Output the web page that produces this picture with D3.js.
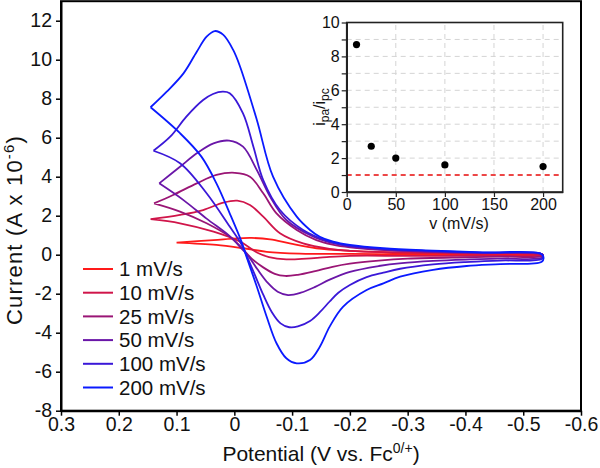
<!DOCTYPE html>
<html>
<head>
<meta charset="utf-8">
<script src="https://cdn.jsdelivr.net/npm/d3@7"></script>
<style>
  html, body { margin: 0; padding: 0; background: #fff; }
  svg { display: block; font-family: "Liberation Sans", Arial, sans-serif; }
</style>
</head>
<body>
<svg id="chart" width="600" height="468"></svg>
<script>
// ---------- data ----------
const scanRates = [1, 10, 25, 50, 100, 200];
const legendLabels = ["1 mV/s", "10 mV/s", "25 mV/s", "50 mV/s", "100 mV/s", "200 mV/s"];
const seriesColors = ["#ff1a1a", "#d0154a", "#9a1575", "#6a16a8", "#3a18d8", "#0a1aff"];

// cyclic voltammograms: [potential (V vs Fc), current (A x 1e-6)] around the closed loop
const cv1 = [[0.100,0.62],[0.036,0.75],[-0.004,0.84],[-0.030,0.86],[-0.062,0.79],[-0.096,0.58],[-0.142,0.33],[-0.2,0.2],[-0.3,0.1],[-0.43,0.05],[-0.53,0.03],
  [-0.532,0.0],[-0.43,0.01],[-0.3,0.02],[-0.2,0.04],[-0.113,0.06],[-0.056,0.15],[-0.015,0.33],[0.031,0.5],[0.100,0.62]];
const cv10 = [[0.145,1.82],[0.094,2.04],[0.054,2.29],[0.019,2.67],[-0.005,2.77],[-0.027,2.55],[-0.050,1.95],[-0.079,1.10],[-0.119,0.58],[-0.165,0.3],[-0.2,0.2],[-0.26,0.13],[-0.35,0.09],[-0.43,0.06],[-0.53,0.04],
  [-0.534,0.0],[-0.532,-0.04],[-0.43,-0.05],[-0.3,-0.06],[-0.2,-0.06],[-0.16,-0.12],[-0.125,-0.2],[-0.09,-0.24],[-0.06,-0.12],[-0.04,0.1],[-0.01,0.67],[0.036,1.18],[0.094,1.61],[0.145,1.82]];
const cv25 = [[0.139,2.63],[0.106,3.06],[0.065,3.66],[0.031,4.09],[-0.001,4.2],[-0.027,4.0],[-0.050,3.15],[-0.073,2.12],[-0.108,1.27],[-0.142,0.75],[-0.17,0.52],[-0.2,0.38],[-0.26,0.23],[-0.35,0.13],[-0.43,0.08],[-0.53,0.05],
  [-0.534,0.0],[-0.532,-0.08],[-0.46,-0.1],[-0.40,-0.13],[-0.3,-0.2],[-0.25,-0.3],[-0.2,-0.46],[-0.17,-0.62],[-0.14,-0.84],[-0.11,-1.03],[-0.088,-1.09],[-0.07,-0.98],[-0.05,-0.65],[-0.03,-0.2],[-0.013,0.35],[0.008,0.92],[0.048,1.61],[0.094,2.21],[0.139,2.63]];
const cv50 = [[0.130,3.66],[0.094,4.51],[0.065,5.2],[0.036,5.71],[0.009,5.85],[-0.015,5.54],[-0.039,4.34],[-0.062,2.97],[-0.090,1.78],[-0.137,0.92],[-0.17,0.6],[-0.2,0.42],[-0.26,0.26],[-0.35,0.15],[-0.43,0.09],[-0.53,0.05],
  [-0.534,-0.02],[-0.532,-0.16],[-0.46,-0.2],[-0.40,-0.25],[-0.344,-0.32],[-0.29,-0.43],[-0.25,-0.58],[-0.2,-0.88],[-0.165,-1.28],[-0.14,-1.65],[-0.115,-1.95],[-0.093,-2.07],[-0.075,-1.9],[-0.058,-1.45],[-0.04,-0.75],[-0.025,-0.1],[-0.013,0.3],[0.008,0.95],[0.048,1.85],[0.088,2.8],[0.130,3.66]];
const cv100 = [[0.140,5.33],[0.111,6.05],[0.083,7.08],[0.054,7.93],[0.037,8.24],[0.020,8.36],[0.008,8.28],[-0.015,7.25],[-0.033,5.54],[-0.050,3.83],[-0.079,2.29],[-0.119,1.27],[-0.165,0.67],[-0.2,0.45],[-0.26,0.29],[-0.35,0.18],[-0.43,0.11],[-0.53,0.06],
  [-0.534,-0.06],[-0.532,-0.22],[-0.46,-0.3],[-0.40,-0.38],[-0.344,-0.5],[-0.287,-0.72],[-0.258,-0.92],[-0.229,-1.15],[-0.2,-1.55],[-0.18,-1.95],[-0.165,-2.4],[-0.148,-2.95],[-0.131,-3.4],[-0.11,-3.68],[-0.095,-3.72],[-0.08,-3.52],[-0.065,-2.95],[-0.05,-2.05],[-0.035,-1.0],[-0.022,-0.1],[-0.013,0.5],[0.008,1.44],[0.048,3.15],[0.094,4.69],[0.140,5.33]];
const cv200 = [[0.145,7.56],[0.117,8.36],[0.088,9.30],[0.065,10.41],[0.048,11.18],[0.034,11.47],[0.019,11.27],[0.002,10.5],[-0.010,9.64],[-0.039,6.91],[-0.067,4.0],[-0.108,1.95],[-0.131,1.27],[-0.148,0.92],[-0.171,0.67],[-0.2,0.5],[-0.258,0.33],[-0.344,0.21],[-0.43,0.12],[-0.529,0.07],
  [-0.535,-0.12],[-0.532,-0.36],[-0.46,-0.48],[-0.402,-0.58],[-0.344,-0.78],[-0.287,-1.13],[-0.258,-1.47],[-0.229,-1.81],[-0.188,-2.67],[-0.165,-3.69],[-0.148,-4.72],[-0.131,-5.4],[-0.108,-5.57],[-0.09,-5.31],[-0.073,-4.54],[-0.056,-3.18],[-0.039,-1.64],[-0.021,-0.10],[-0.013,0.62],[0.008,2.12],[0.031,3.66],[0.057,5.03],[0.094,6.23],[0.145,7.56]];
const cvSeries = [cv1, cv10, cv25, cv50, cv100, cv200];

const xTicks = [0.3, 0.2, 0.1, 0, -0.1, -0.2, -0.3, -0.4, -0.5, -0.6];
const yTicks = [-8, -6, -4, -2, 0, 2, 4, 6, 8, 10, 12];

// inset: peak current ratio vs scan rate
const insetRates = [10, 25, 50, 100, 200];
const insetRatios = [8.7, 2.7, 2.0, 1.6, 1.5];
const insetXTicks = [0, 50, 100, 150, 200];
const insetYTicks = [0, 1, 2, 3, 4, 5, 6, 7, 8, 9, 10];
const insetYLabels = [0, 2, 4, 6, 8, 10];
const idealRatio = 1;

// ---------- drawing ----------
const svg = d3.select("#chart");
const x = d3.scaleLinear().domain([0.3, -0.6]).range([61, 581]);
const y = d3.scaleLinear().domain([-8, 13]).range([410.7, 1.2]);

const line = d3.line().x(d => x(d[0])).y(d => y(d[1])).curve(d3.curveCatmullRom.alpha(0.5));

svg.append("g").selectAll("path").data(cvSeries).join("path")
  .attr("d", line).attr("fill", "none")
  .attr("stroke", (d, i) => seriesColors[i]).attr("stroke-width", 1.8)
  .attr("stroke-linejoin", "round");

// frame
svg.append("rect").attr("x", x(0.3)).attr("y", y(13)).attr("width", x(-0.6) - x(0.3)).attr("height", y(-8) - y(13))
  .attr("fill", "none").attr("stroke", "#000").attr("stroke-width", 2);

const xAxis = svg.append("g").attr("transform", `translate(0,${y(-8)})`)
  .call(d3.axisBottom(x).tickValues(xTicks).tickFormat(d => String(d)).tickSize(5).tickSizeOuter(0));
const yAxis = svg.append("g").attr("transform", `translate(${x(0.3)},0)`)
  .call(d3.axisLeft(y).tickValues(yTicks).tickFormat(d => String(d)).tickSize(5).tickSizeOuter(0));
[xAxis, yAxis].forEach(g => {
  g.select(".domain").attr("stroke-width", 2);
  g.selectAll(".tick line").attr("stroke-width", 1.5);
  g.selectAll(".tick text").attr("font-size", 19.5).attr("font-family", "Liberation Sans, Arial, sans-serif").attr("fill", "#111");
});
xAxis.selectAll(".tick text").attr("y", 6).attr("dy", "0.71em");
yAxis.selectAll(".tick text").attr("x", -9);

// axis titles
const xt = svg.append("text").attr("x", 321).attr("y", 461).attr("text-anchor", "middle").attr("font-size", 21).attr("fill", "#111");
xt.append("tspan").text("Potential (V vs. Fc");
xt.append("tspan").attr("dy", -8).attr("font-size", 14).text("0/+");
xt.append("tspan").attr("dy", 8).text(")");

const yt = svg.append("text").attr("transform", "translate(22,230) rotate(-90)").attr("text-anchor", "middle")
  .attr("font-size", 22).attr("letter-spacing", 1.2).attr("fill", "#111");
yt.append("tspan").text("Current (A x 10");
yt.append("tspan").attr("dy", -8).attr("font-size", 15).text("-6");
yt.append("tspan").attr("dy", 8).text(")");

// legend
const legend = svg.append("g");
legendLabels.forEach((lab, i) => {
  const ly = 269 + i * 23.7;
  legend.append("line").attr("x1", 83).attr("x2", 113).attr("y1", ly).attr("y2", ly)
    .attr("stroke", seriesColors[i]).attr("stroke-width", 2);
  legend.append("text").attr("x", 119).attr("y", ly).attr("dy", "0.35em").attr("font-size", 20.5).attr("fill", "#111").text(lab);
});

// ---------- inset ----------
const ix = d3.scaleLinear().domain([0, 220]).range([346.7, 562.7]);
const iy = d3.scaleLinear().domain([0, 10]).range([192, 22.5]);
const inset = svg.append("g");
inset.append("rect").attr("x", ix(0)).attr("y", iy(10)).attr("width", ix(220) - ix(0)).attr("height", iy(0) - iy(10)).attr("fill", "#fff");
inset.append("g").selectAll("line").data(insetYTicks.filter(v => v > 0 && v < 10)).join("line")
  .attr("x1", ix(0)).attr("x2", ix(220)).attr("y1", d => iy(d)).attr("y2", d => iy(d))
  .attr("stroke", "#d4d4d4").attr("stroke-width", 1).attr("stroke-dasharray", "5,4");
inset.append("g").selectAll("line").data(insetXTicks.filter(v => v > 0)).join("line")
  .attr("x1", d => ix(d)).attr("x2", d => ix(d)).attr("y1", iy(0)).attr("y2", iy(10))
  .attr("stroke", "#d4d4d4").attr("stroke-width", 1).attr("stroke-dasharray", "5,4");
inset.append("line").attr("x1", ix(0)).attr("x2", ix(220)).attr("y1", iy(idealRatio)).attr("y2", iy(idealRatio))
  .attr("stroke", "#ee1111").attr("stroke-width", 1.6).attr("stroke-dasharray", "5,4");
inset.append("rect").attr("x", ix(0)).attr("y", iy(10)).attr("width", ix(220) - ix(0)).attr("height", iy(0) - iy(10))
  .attr("fill", "none").attr("stroke", "#222").attr("stroke-width", 1.6);
inset.append("g").selectAll("circle").data(insetRates).join("circle")
  .attr("cx", d => ix(d)).attr("cy", (d, i) => iy(insetRatios[i])).attr("r", 3.6).attr("fill", "#000");

const ixAxis = inset.append("g").attr("transform", `translate(0,${iy(0)})`)
  .call(d3.axisBottom(ix).tickValues(insetXTicks).tickSize(5).tickSizeOuter(0));
const iyAxis = inset.append("g").attr("transform", `translate(${ix(0)},0)`)
  .call(d3.axisLeft(iy).tickValues(insetYTicks).tickFormat(d => insetYLabels.includes(d) ? String(d) : "").tickSize(5).tickSizeOuter(0));
[ixAxis, iyAxis].forEach(g => {
  g.select(".domain").attr("stroke-width", 1.6).attr("stroke", "#222");
  g.selectAll(".tick line").attr("stroke-width", 1.2).attr("stroke", "#222");
  g.selectAll(".tick text").attr("font-size", 16).attr("font-family", "Liberation Sans, Arial, sans-serif").attr("fill", "#111");
});
ixAxis.selectAll(".tick text").attr("y", 7);
iyAxis.selectAll(".tick text").attr("x", -7);

inset.append("text").attr("x", 459).attr("y", 229).attr("text-anchor", "middle").attr("font-size", 16).attr("fill", "#111").text("v (mV/s)");
const iyt = inset.append("text").attr("transform", "translate(325,107) rotate(-90)").attr("text-anchor", "middle").attr("font-size", 16).attr("fill", "#111");
iyt.append("tspan").text("i");
iyt.append("tspan").attr("dy", 4).attr("font-size", 12).text("pa");
iyt.append("tspan").attr("dy", -4).text("/i");
iyt.append("tspan").attr("dy", 4).attr("font-size", 12).text("pc");
</script>
</body>
</html>
